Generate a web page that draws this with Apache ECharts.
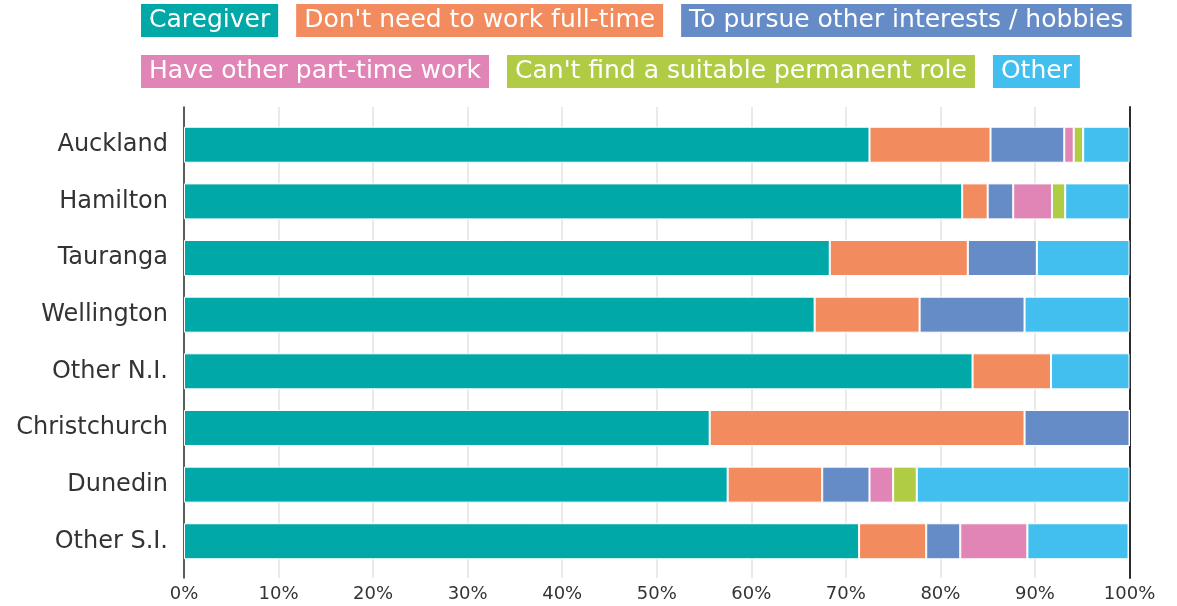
<!DOCTYPE html>
<html>
<head>
<meta charset="utf-8">
<script src="https://cdn.jsdelivr.net/npm/echarts@6/dist/echarts.min.js"></script>
<style>
  html, body { margin: 0; padding: 0; background: #fff; }
  #chart { width: 1177px; height: 606px; }
</style>
</head>
<body>
<div id="chart"></div>
<script>
// Reasons for part-time work, share of respondents by region (%)
const categories = ['Auckland', 'Hamilton', 'Tauranga', 'Wellington', 'Other N.I.', 'Christchurch', 'Dunedin', 'Other S.I.'];
const seriesNames = ['Caregiver', "Don't need to work full-time", 'To pursue other interests / hobbies',
  'Have other part-time work', "Can't find a suitable permanent role", 'Other'];
const caregiver = [72.5, 82.3, 68.3, 66.7, 83.4, 55.6, 57.5, 71.4];
const dontNeed  = [12.8, 2.7, 14.6, 11.1, 8.3, 33.3, 10.0, 7.1];
const pursue    = [7.8, 2.7, 7.3, 11.1, 0, 11.1, 5.0, 3.6];
const partTime  = [1.0, 4.1, 0, 0, 0, 0, 2.5, 7.1];
const cantFind  = [1.0, 1.4, 0, 0, 0, 0, 2.5, 0];
const other     = [4.9, 6.8, 9.8, 11.1, 8.3, 0, 22.5, 10.7];
const xTicks = [0, 10, 20, 30, 40, 50, 60, 70, 80, 90, 100];

const colors = ['#00a8a8', '#f28c5e', '#668cc8', '#e085b5', '#b0cc45', '#42bfee'];
const values = [caregiver, dontNeed, pursue, partTime, cantFind, other];
const FONT = 'DejaVu Sans';

// each legend entry is a solid coloured tag with white text
const rich = {};
seriesNames.forEach((n, i) => {
  rich['s' + i] = {
    backgroundColor: colors[i], color: '#fff', fontFamily: FONT, fontSize: 25,
    padding: [4, 8, 4, 8], lineHeight: 26
  };
});

function legendRow(names, top) {
  return {
    left: 130, top: top,
    itemWidth: 0, itemHeight: 0, itemGap: 12,
    icon: 'rect',
    selectedMode: false,
    data: names,
    formatter: name => '{s' + seriesNames.indexOf(name) + '|' + name + '}',
    textStyle: { rich: rich }
  };
}

const chart = echarts.init(document.getElementById('chart'), null, { renderer: 'canvas' });
chart.setOption({
  animation: false,
  color: colors,
  legend: [
    legendRow(seriesNames.slice(0, 3), -1),
    legendRow(seriesNames.slice(3), 50)
  ],
  grid: [
    // frame: gridlines, end lines and percentage labels
    { left: 184, right: 47.5, top: 107, bottom: 28 },
    // bars
    { left: 184, right: 47.5, top: 116.4, bottom: 36.4 }
  ],
  xAxis: [
    {
      gridIndex: 0, type: 'value', min: 0, max: 100, interval: 10,
      axisLine: { show: false }, axisTick: { show: false },
      axisLabel: { formatter: v => xTicks.includes(v) ? v + '%' : '', color: '#333', fontFamily: FONT, fontSize: 18, margin: 7 },
      splitLine: { show: true, lineStyle: { color: '#e3e3e3', width: 1.5 } }
    },
    { gridIndex: 1, type: 'value', min: 0, max: 100, show: false }
  ],
  yAxis: [
    {
      gridIndex: 0, type: 'value', min: 0, max: 1, position: 'left',
      axisLine: { show: true, lineStyle: { color: '#2b2b2b', width: 1.5 } },
      axisTick: { show: false }, axisLabel: { show: false }, splitLine: { show: false }
    },
    {
      gridIndex: 0, type: 'value', min: 0, max: 1, position: 'right',
      axisLine: { show: true, lineStyle: { color: '#2b2b2b', width: 2 } },
      axisTick: { show: false }, axisLabel: { show: false }, splitLine: { show: false }
    },
    {
      gridIndex: 1, type: 'category', data: categories, inverse: true,
      axisLine: { show: false }, axisTick: { show: false }, splitLine: { show: false },
      axisLabel: { color: '#333', fontFamily: FONT, fontSize: 24, margin: 16 }
    }
  ],
  series: seriesNames.map((name, i) => ({
    name: name,
    type: 'bar',
    stack: 'total',
    xAxisIndex: 1,
    yAxisIndex: 2,
    barWidth: 36,
    data: values[i],
    itemStyle: { color: colors[i], borderColor: '#fff', borderWidth: 1 }
  }))
});
</script>
</body>
</html>
